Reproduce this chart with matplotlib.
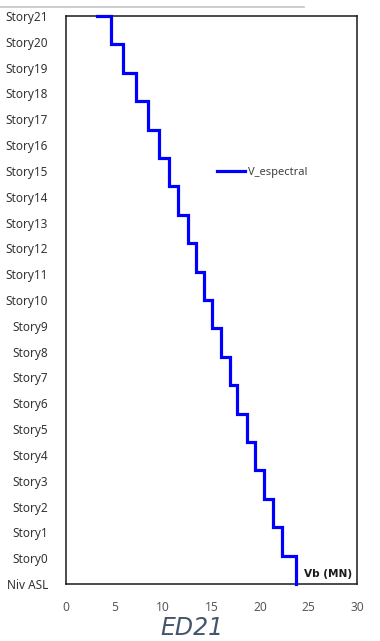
import numpy as np
import matplotlib
matplotlib.use("Agg")
import matplotlib.pyplot as plt
from matplotlib.lines import Line2D

# ---- data ----
story_labels = ["Niv ASL"] + [f"Story{i}" for i in range(22)]
# shear per level interval, bottom to top (MN)
shear_vb = [23.68, 22.23, 21.30, 20.37, 19.44, 18.61, 17.68, 16.86, 16.03, 15.10,
            14.27, 13.44, 12.62, 11.58, 10.65, 9.62, 8.48, 7.24, 5.90, 4.65]
roof_shear = 3.2
x_ticks = [0, 5, 10, 15, 20, 25, 30]
series_name = "V_espectral"
x_label = "Vb (MN)"
title = "ED21"

plt.rcParams['font.family'] = ['Noto Sans', 'DejaVu Sans']

fig = plt.figure(figsize=(3.8, 6.41), dpi=100)
fig.patch.set_facecolor("white")

W, H = 380, 641
L, R, T, B = 66, 357, 16, 584
ax = fig.add_axes([L / W, 1 - B / H, (R - L) / W, (B - T) / H])

ax.set_xlim(0, 30)
ax.set_ylim(0, len(story_labels) - 1)
ax.set_yticks(range(len(story_labels)))
ax.set_yticklabels(story_labels, fontsize=8.5, color="#333333")
ax.set_xticks(x_ticks)
ax.set_xticklabels([str(t) for t in x_ticks], fontsize=8.6, color="#595959")
ax.tick_params(axis="both", length=0)
ax.tick_params(axis="y", pad=13)
ax.tick_params(axis="x", pad=12)
for s in ax.spines.values():
    s.set_color("#1a1a1a")
    s.set_linewidth(1.1)

# step line on a data axis with one unit per level
ax2 = ax.twinx()
ax2.set_ylim(0, len(shear_vb))
ax2.set_yticks([])
for s in ax2.spines.values():
    s.set_visible(False)

xs, ys = [], []
for i, v in enumerate(shear_vb):
    xs += [v, v]
    ys += [i, i + 1]
xs.append(roof_shear)
ys.append(len(shear_vb))
ax2.plot(xs, ys, color="#0000ff", lw=2.3, clip_on=False, label=series_name,
         solid_joinstyle="miter")

leg = ax2.legend(loc="center left", bbox_to_anchor=(0.519, 0.725), frameon=False,
                 fontsize=8.0, handlelength=2.5, handletextpad=0.25,
                 borderpad=0, borderaxespad=0)
for t in leg.get_texts():
    t.set_color("#404040")

ax.text(0.982, 0.018, x_label, transform=ax.transAxes, ha="right", va="center",
        fontsize=7.6, fontweight="bold", color="#1a1a1a", family=["DejaVu Sans"])

fig.text(192 / W, 1 - 628 / H, title, ha="center", va="center", fontsize=17,
         style="italic", color="#44546A", family=["DejaVu Sans"])

# faint top rule
fig.add_artist(Line2D([0, 0.8], [1 - 7 / H, 1 - 7 / H], transform=fig.transFigure,
                      color="#c8c8c8", lw=1.3))

fig.savefig("out.png", dpi=100)
